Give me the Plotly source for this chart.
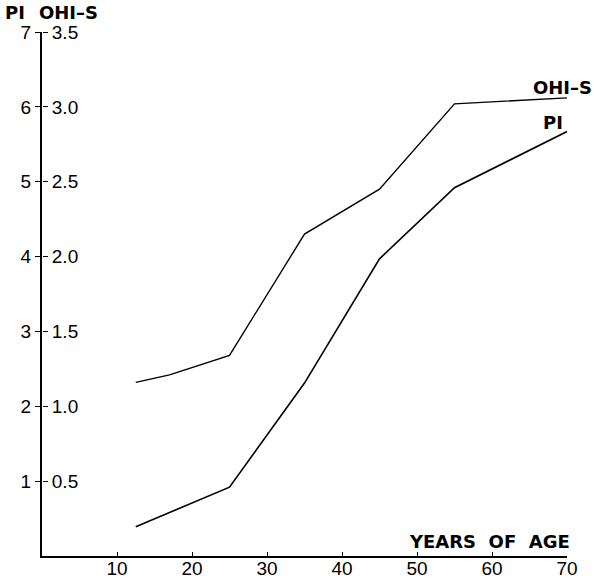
import plotly.graph_objects as go

# Data
ages_ohis = [12.5, 17, 25, 35, 45, 55, 70]
ohis = [1.16, 1.21, 1.34, 2.15, 2.45, 3.02, 3.06]
ages_pi = [12.5, 25, 35, 45, 55, 70]
pi = [0.39, 0.92, 2.31, 3.97, 4.92, 5.67]

x_ticks = [10, 20, 30, 40, 50, 60, 70]
pi_ticks = [1, 2, 3, 4, 5, 6, 7]
ohis_ticks = [0.5, 1.0, 1.5, 2.0, 2.5, 3.0, 3.5]
ohis_ticklabels = ["0.5", "1.0", "1.5", "2.0", "2.5", "3.0", "3.5"]

FONT = "Liberation Sans"
BFONT = "DejaVu Sans"

fig = go.Figure()
fig.add_trace(go.Scatter(x=ages_pi, y=pi, mode="lines", yaxis="y",
                         line=dict(color="black", width=1.6), showlegend=False))
fig.add_trace(go.Scatter(x=ages_ohis, y=ohis, mode="lines", yaxis="y2",
                         line=dict(color="black", width=1.4), showlegend=False))

fig.update_layout(
    width=594, height=581,
    margin=dict(l=42, r=27, t=32, b=25),
    paper_bgcolor="white", plot_bgcolor="white",
    font=dict(family=FONT, size=18, color="black"),
    xaxis=dict(range=[0, 70], tickvals=x_ticks, showline=True, linecolor="black",
               linewidth=2, ticks="inside", ticklen=4, tickcolor="black",
               showgrid=False, zeroline=False, automargin=False,
               tickfont=dict(size=19, family=FONT)),
    yaxis=dict(range=[0, 7], tickvals=pi_ticks, showline=True, linecolor="black",
               linewidth=2, ticks="outside", ticklen=5, tickcolor="black",
               showgrid=False, zeroline=False, automargin=False,
               tickfont=dict(size=19, family=FONT)),
    yaxis2=dict(range=[0, 3.5], tickvals=ohis_ticks, ticktext=ohis_ticklabels,
                overlaying="y", side="right", anchor="free", position=0,
                showline=False, ticks="outside", ticklen=5, tickcolor="black",
                showgrid=False, zeroline=False, automargin=False,
                tickfont=dict(size=19, family=FONT)),
)

try:
    fig.update_xaxes(ticklabelstandoff=-6)
except Exception:
    pass

bold = dict(family=BFONT, size=18, color="black")


def px_x(px):
    return (px - 42) / 525


def px_y(py):
    return (556 - py) / 524


fig.add_annotation(x=px_x(3), y=px_y(13), xref="paper", yref="paper",
                   text="<b>PI</b>", showarrow=False, xanchor="left", yanchor="middle", font=bold)
fig.add_annotation(x=px_x(37), y=px_y(13), xref="paper", yref="paper",
                   text="<b>OHI–S</b>", showarrow=False, xanchor="left", yanchor="middle", font=bold)
fig.add_annotation(x=px_x(594), y=px_y(88), xref="paper", yref="paper", text="<b>OHI–S</b>",
                   showarrow=False, xanchor="right", yanchor="middle", font=bold)
fig.add_annotation(x=px_x(553), y=px_y(123), xref="paper", yref="paper", text="<b>PI</b>",
                   showarrow=False, xanchor="center", yanchor="middle", font=bold)
fig.add_annotation(x=px_x(572), y=px_y(541), xref="paper", yref="paper",
                   text="<b>YEARS  OF  AGE</b>",
                   showarrow=False, xanchor="right", yanchor="middle", font=bold)

fig.write_html("out.html")
